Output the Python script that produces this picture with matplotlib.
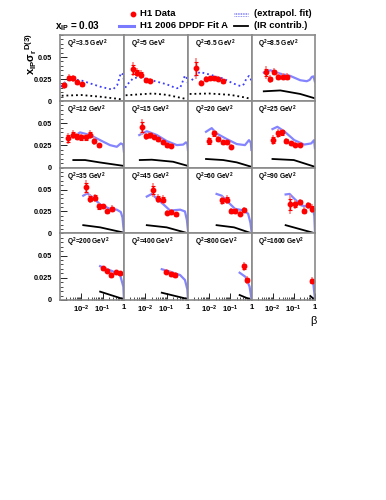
import numpy as np
import matplotlib.pyplot as plt
from matplotlib.ticker import MultipleLocator, FixedLocator

plt.rcParams['font.family'] = ['Liberation Sans', 'DejaVu Sans']
plt.rcParams['font.weight'] = 'bold'
plt.rcParams['mathtext.fontset'] = 'custom'
plt.rcParams['mathtext.rm'] = 'Liberation Sans:bold'
plt.rcParams['mathtext.bf'] = 'Liberation Sans:bold'
plt.rcParams['mathtext.it'] = 'Liberation Sans:bold'
plt.rcParams['mathtext.default'] = 'rm'

# ---- data (x_IP = 0.03) ----
q2 = ['3.5', '5', '6.5', '8.5', '12', '15', '20', '25',
      '35', '45', '60', '90', '200', '400', '800', '1600']

beta = [
    [0.0015, 0.0026, 0.0041, 0.0063, 0.0107],
    [0.0026, 0.0042, 0.0065, 0.0105, 0.017],
    [0.0025, 0.0043, 0.0068, 0.0107, 0.0166, 0.026, 0.043],
    [0.0049, 0.0078, 0.0117, 0.0186, 0.0295, 0.048],
    [0.0025, 0.0039, 0.0063, 0.01, 0.0158, 0.0257, 0.041, 0.065],
    [0.0068, 0.0105, 0.0166, 0.0257, 0.041, 0.066, 0.1, 0.155],
    [0.01, 0.0166, 0.026, 0.043, 0.066, 0.105],
    [0.0105, 0.017, 0.027, 0.044, 0.071, 0.115, 0.186],
    [0.0166, 0.0257, 0.044, 0.069, 0.107, 0.166, 0.27],
    [0.024, 0.041, 0.066, 0.1, 0.162, 0.27],
    [0.041, 0.066, 0.105, 0.174, 0.275, 0.43],
    [0.068, 0.117, 0.186, 0.29, 0.457, 0.76],
    [0.1, 0.155, 0.245, 0.41, 0.66],
    [0.093, 0.155, 0.245],
    [0.43, 0.63],
    [0.71],
]
sigma = [
    [0.018, 0.0265, 0.026, 0.0214, 0.019],
    [0.036, 0.0323, 0.030, 0.0236, 0.023],
    [0.037, 0.021, 0.0255, 0.0257, 0.0257, 0.0252, 0.0225],
    [0.0325, 0.025, 0.033, 0.0274, 0.0274, 0.0274],
    [0.033, 0.037, 0.035, 0.034, 0.034, 0.037, 0.030, 0.025],
    [0.046, 0.0355, 0.0367, 0.0348, 0.0318, 0.0285, 0.0254, 0.0247],
    [0.030, 0.0385, 0.0322, 0.0285, 0.0285, 0.0235],
    [0.031, 0.0385, 0.0397, 0.030, 0.0273, 0.026, 0.026],
    [0.0525, 0.0394, 0.0405, 0.0307, 0.0307, 0.0251, 0.028],
    [0.0495, 0.0394, 0.0383, 0.0236, 0.0243, 0.0217],
    [0.0375, 0.0383, 0.0255, 0.0255, 0.0225, 0.027],
    [0.033, 0.033, 0.0356, 0.0255, 0.0319, 0.028],
    [0.0357, 0.033, 0.0281, 0.0312, 0.030],
    [0.0319, 0.0293, 0.0281],
    [0.038, 0.0225],
    [0.0217],
]
err_tot = [
    [0.004, 0.004, 0.004, 0.003, 0.003],
    [0.008, 0.005, 0.005, 0.003, 0.003],
    [0.012, 0.003, 0.003, 0.003, 0.003, 0.003, 0.003],
    [0.007, 0.004, 0.004, 0.004, 0.004, 0.004],
    [0.006, 0.005, 0.004, 0.004, 0.004, 0.005, 0.004, 0.003],
    [0.009, 0.004, 0.004, 0.003, 0.003, 0.003, 0.003, 0.003],
    [0.005, 0.004, 0.003, 0.003, 0.003, 0.003],
    [0.006, 0.005, 0.004, 0.003, 0.003, 0.003, 0.003],
    [0.008, 0.005, 0.005, 0.004, 0.003, 0.003, 0.004],
    [0.008, 0.005, 0.005, 0.003, 0.003, 0.003],
    [0.005, 0.005, 0.003, 0.003, 0.003, 0.003],
    [0.011, 0.005, 0.004, 0.004, 0.004, 0.005],
    [0.003, 0.003, 0.003, 0.003, 0.003],
    [0.003, 0.003, 0.003],
    [0.005, 0.004],
    [0.004],
]

# H1 2006 DPDF Fit A curves
fit_beta = [
    [0.0011, 0.0015, 0.0021, 0.003, 0.005, 0.011, 0.026, 0.076, 0.22, 0.31, 0.48, 0.72, 0.9, 0.99],
    [0.00115, 0.00135, 0.0019, 0.00275, 0.0056, 0.024, 0.1, 0.2, 0.3, 0.43, 0.52, 0.72, 0.87, 0.99],
    [0.0015, 0.0024, 0.0036, 0.0107, 0.046, 0.135, 0.275, 0.33, 0.43, 0.575, 0.76, 0.91, 0.99],
    [0.0038, 0.0078, 0.023, 0.068, 0.2, 0.41, 0.56, 0.71, 0.85, 0.99],
    [0.0042, 0.0087, 0.0257, 0.076, 0.22, 0.46, 0.71, 0.91, 0.99],
    [0.0052, 0.0117, 0.035, 0.1, 0.3, 0.6, 0.8, 0.93, 0.99],
    [0.0071, 0.0132, 0.0224, 0.068, 0.2, 0.49, 0.76, 0.93, 0.99],
    [0.0098, 0.0166, 0.035, 0.105, 0.31, 0.66, 0.91, 0.99],
    [0.0123, 0.019, 0.036, 0.076, 0.22, 0.46, 0.71, 0.85, 0.93, 0.99],
    [0.0117, 0.02, 0.035, 0.071, 0.145, 0.43, 0.72, 0.89, 0.99],
    [0.0224, 0.039, 0.079, 0.166, 0.41, 0.69, 0.89, 0.99],
    [0.041, 0.063, 0.107, 0.224, 0.55, 0.8, 0.93, 0.99],
    [0.076, 0.13, 0.32, 0.66, 0.93, 0.99],
    [0.059, 0.145, 0.43, 0.72, 0.93, 0.99],
    [0.275, 0.52, 0.81, 0.99],
    [0.71, 0.83, 0.99],
]
fit_val = [
    [0.016, 0.020, 0.023, 0.025, 0.0245, 0.023, 0.020, 0.0163, 0.0136, 0.0133, 0.018, 0.032, 0.030, 0.024],
    [0.015, 0.018, 0.022, 0.026, 0.027, 0.023, 0.019, 0.016, 0.0145, 0.015, 0.020, 0.029, 0.026, 0.020],
    [0.0236, 0.029, 0.033, 0.030, 0.0255, 0.020, 0.0173, 0.017, 0.019, 0.0255, 0.0285, 0.026, 0.020],
    [0.0323, 0.0349, 0.031, 0.0285, 0.0236, 0.0225, 0.024, 0.0274, 0.028, 0.022],
    [0.0348, 0.0397, 0.0367, 0.031, 0.0254, 0.0235, 0.0273, 0.026, 0.018],
    [0.0367, 0.041, 0.0367, 0.030, 0.0254, 0.026, 0.0285, 0.027, 0.020],
    [0.0404, 0.0445, 0.0385, 0.0322, 0.0266, 0.0254, 0.031, 0.028, 0.020],
    [0.0434, 0.046, 0.041, 0.031, 0.026, 0.0273, 0.031, 0.022],
    [0.043, 0.0457, 0.0405, 0.033, 0.028, 0.027, 0.0243, 0.018, 0.0075, 0.002],
    [0.042, 0.045, 0.0394, 0.033, 0.026, 0.027, 0.025, 0.015, 0.0037],
    [0.045, 0.043, 0.0356, 0.028, 0.0262, 0.0225, 0.012, 0.003],
    [0.0444, 0.045, 0.0394, 0.0319, 0.030, 0.028, 0.020, 0.003],
    [0.038, 0.0357, 0.0319, 0.028, 0.015, 0.002],
    [0.0346, 0.0319, 0.028, 0.0225, 0.012, 0.002],
    [0.0307, 0.026, 0.015, 0.002],
    [0.021, 0.0188, 0.002],
]

# IR (reggeon) contribution
ir_beta = [
    [0.0012, 0.01, 0.076, 0.5, 1.0],
    [0.0012, 0.01, 0.023, 0.1, 0.6, 1.0],
    [0.0012, 0.01, 0.1, 0.5, 1.0],
    [0.0038, 0.023, 0.2, 1.0],
    [0.0042, 0.015, 0.07, 1.0],
    [0.0055, 0.02, 0.2, 1.0],
    [0.0071, 0.046, 0.2, 1.0],
    [0.0098, 0.1, 1.0],
    [0.0123, 0.076, 1.0],
    [0.0117, 0.1, 1.0],
    [0.0224, 0.15, 1.0],
    [0.041, 1.0],
    [0.076, 1.0],
    [0.059, 1.0],
    [0.275, 1.0],
    [0.6, 1.0],
]
ir_val = [
    [0.006, 0.0068, 0.0049, 0.0025, 0.0015],
    [0.0065, 0.008, 0.0085, 0.007, 0.003, 0.002],
    [0.008, 0.0085, 0.007, 0.004, 0.0022],
    [0.011, 0.012, 0.008, 0.003],
    [0.0086, 0.0086, 0.006, 0.002],
    [0.0086, 0.009, 0.0067, 0.002],
    [0.0098, 0.0086, 0.006, 0.001],
    [0.0098, 0.0086, 0.001],
    [0.0093, 0.0068, 0.0007],
    [0.0093, 0.0068, 0.0],
    [0.0093, 0.0068, 0.0],
    [0.0093, 0.0],
    [0.0094, 0.0008],
    [0.0082, 0.001],
    [0.0056, 0.0],
    [0.0045, 0.0],
]
extrapolated = [True, True, True] + [False] * 13

# ---- layout in pixels ----
W, H = 386.0, 500.0
col_x = [60, 124, 188, 251.5, 315]
row_y = [35, 101, 167.7, 233.3, 300]

fig = plt.figure(figsize=(3.86, 5.0), dpi=100)

for i in range(16):
    r, c = divmod(i, 4)
    ax = fig.add_axes([col_x[c] / W, 1 - row_y[r + 1] / H,
                       (col_x[c + 1] - col_x[c]) / W, (row_y[r + 1] - row_y[r]) / H])
    ax.set_xscale('log')
    ax.set_xlim(1e-3, 1)
    ax.set_ylim(0, 0.075)
    for sp in ax.spines.values():
        sp.set_color('#8a8a8a')
        sp.set_linewidth(1.2)

    ls = ':' if extrapolated[i] else '-'
    ax.plot(ir_beta[i], ir_val[i], color='black', ls=ls, lw=1.3)
    if extrapolated[i]:
        ax.plot(fit_beta[i], fit_val[i], color='#3c3cff', ls=':', lw=1.3)
    else:
        ax.plot(fit_beta[i], fit_val[i], color='#8484ff', ls='-', lw=1.6)

    s = np.array(sigma[i])
    e = np.array(err_tot[i])
    ax.errorbar(beta[i], s, yerr=e, fmt='none', ecolor='#ff8c8c', elinewidth=1.3, capsize=0)
    ax.errorbar(beta[i], s, yerr=0.6 * e, fmt='o', color='red', ms=3.2,
                elinewidth=1.0, capsize=1.6, capthick=0.8)

    ax.text(0.11, 0.86, 'Q$^2$=' + q2[i] + ' GeV$^2$', transform=ax.transAxes,
            fontsize=4.8, fontweight='bold', va='center', ha='left')

    ax.tick_params(which='both', direction='in', colors='black')
    if c == 0:
        ax.set_yticks([0, 0.025, 0.05])
        ax.set_yticklabels(['0', '0.025', '0.05'])
        ax.yaxis.set_minor_locator(MultipleLocator(0.005))
        ax.tick_params(axis='y', which='major', length=5, width=0.6, labelsize=5.3, pad=6)
        ax.tick_params(axis='y', which='minor', length=2.5, width=0.5)
    else:
        ax.tick_params(axis='y', which='both', left=False, labelleft=False)
    if r == 3:
        ax.xaxis.set_major_locator(FixedLocator([0.01, 0.1, 1.0]))
        ax.set_xticklabels(['10$^{-2}$', '10$^{-1}$', '1'])
        minors = [m * 10.0 ** d for d in (-3, -2, -1) for m in range(2, 10)]
        ax.xaxis.set_minor_locator(FixedLocator(minors))
        ax.xaxis.set_minor_formatter(plt.NullFormatter())
        ax.tick_params(axis='x', which='major', length=5, width=0.6, labelsize=5.6, pad=3)
        ax.tick_params(axis='x', which='minor', length=2.5, width=0.5)
    else:
        ax.tick_params(axis='x', which='both', bottom=False, labelbottom=False)

# ---- labels and legend ----
fig.text(31 / W, 1 - 33 / H, 'x$_{IP}$σ$_r$$^{D(3)}$', rotation=90, ha='center', va='top',
         fontsize=8, fontweight='bold')
fig.text(313 / W, 1 - 321 / H, 'β', ha='center', va='center', fontsize=8, fontweight='normal')
fig.text(55 / W, 1 - 26 / H, 'x$_{IP}$ = 0.03', ha='left', va='center', fontsize=7.2, fontweight='bold')

fs = 6.8
fig.lines.append(plt.Line2D([132.5 / W], [1 - 13.5 / H], marker='o', color='red', ms=3.2,
                            transform=fig.transFigure))
fig.text(140 / W, 1 - 13.5 / H, 'H1 Data', ha='left', va='center', fontsize=fs, fontweight='bold')
fig.lines.append(plt.Line2D([119 / W, 133.5 / W], [1 - 25.5 / H] * 2, color='#7a7aff', lw=2.2,
                            transform=fig.transFigure))
fig.text(140 / W, 1 - 25.5 / H, 'H1 2006 DPDF Fit A', ha='left', va='center', fontsize=fs,
         fontweight='bold')
for dy in (-1.5, 0, 1.5):
    fig.lines.append(plt.Line2D([234 / W, 248 / W], [1 - (14 + dy) / H] * 2, color='#6c6cff',
                                lw=0.6, ls=(0, (1, 1)), transform=fig.transFigure))
fig.text(254 / W, 1 - 13.5 / H, '(extrapol. fit)', ha='left', va='center', fontsize=fs,
         fontweight='bold')
fig.lines.append(plt.Line2D([234 / W, 248.5 / W], [1 - 25.5 / H] * 2, color='black', lw=1.3,
                            transform=fig.transFigure))
fig.text(254 / W, 1 - 25.5 / H, '(IR contrib.)', ha='left', va='center', fontsize=fs,
         fontweight='bold')

fig.savefig('out.png', dpi=100)
